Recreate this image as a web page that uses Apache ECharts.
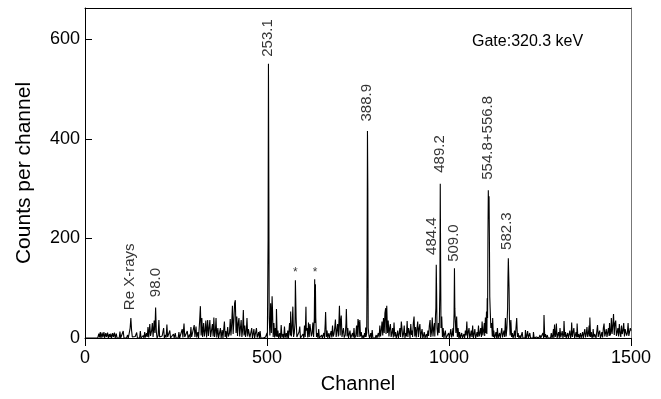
<!DOCTYPE html>
<html><head><meta charset="utf-8">
<script src="https://cdn.jsdelivr.net/npm/echarts@6.0.0/dist/echarts.min.js"></script>
<style>html,body{margin:0;padding:0;background:#fff}#c{width:661px;height:399px}</style>
</head><body><div id="c"></div>
<script>
// Gamma spectrum: [channel, counts per channel]
const spectrum = [
[0,0],[35,0],[38,9],[40,1],[42,12],[44,0],[47,11],[49,1],[52,12],[54,0],[57,10],[59,2],[62,11],[64,0],[67,8],[69,1],[71,9],[73,0],[76,10],[78,2],[81,11],[83,0],[86,9],[88,0],[92,4],[94,0],[96,13],[98,0],[101,2],[103,0],[105,14],[107,0],[112,3],[114,0],[117,6],[119,0],[122,12],[124,20],[126,40],[128,15],[130,2],[132,0],[138,3],[140,0],[142,11],[144,0],[148,2],[150,0],[152,14],[154,0],
[160,5],[162,0],[164,12],[166,1],[169,10],[171,2],[173,22],[175,1],[178,28],[180,4],[183,15],[185,30],[187,2],[190,35],[192,10],[194,61],[196,12],[198,0],[201,5],[203,36],[205,2],[208,0],[212,4],[214,0],[216,20],[218,0],[221,6],[223,1],[225,27],[227,2],[230,0],[233,15],[235,0],[238,4],[240,0],
[243,8],[245,0],[248,10],[250,0],[254,3],[256,0],[258,12],[260,0],[263,3],[265,0],[267,18],[269,1],[272,29],[274,2],[277,3],[279,0],[281,14],[283,0],[287,7],[289,0],[291,22],[293,2],[296,4],[298,1],[300,26],[302,2],
[305,23],[307,1],[310,12],[312,0],[315,35],[317,64],[319,5],[321,40],[323,2],[326,30],[328,3],[330,14],[332,35],[334,1],[337,36],[339,4],[341,20],[343,36],[345,2],[348,5],[350,28],[352,3],[354,41],[356,2],[358,12],[360,40],[362,1],[365,20],[367,0],[370,2],[372,20],[374,0],[377,16],[379,0],[383,33],[385,2],[387,14],[389,0],[392,22],[394,3],[397,10],[399,38],[401,5],
[403,28],[405,65],[407,8],[409,35],[411,70],[413,76],[415,10],[417,43],[419,4],[421,30],[423,40],[425,3],[427,20],[429,36],[431,2],[433,15],[435,56],[437,5],[439,25],[441,2],[443,12],[445,40],[447,3],[449,18],[451,22],[453,1],[456,5],[458,20],[460,0],[462,8],[464,18],[466,0],[469,2],[471,20],[473,1],[475,6],[477,12],[479,0],[481,14],[483,0],[488,3],[490,0],[496,2],[498,0],[500,10],[501,0],[503,200],[504,551],[505,300],[506,40],[508,5],
[510,70],[512,10],[514,84],[515,60],[517,2],[519,30],[521,1],[523,20],[525,3],[526,58],[528,2],[530,15],[532,0],[535,10],[537,0],[539,26],[541,1],[544,8],[546,0],[548,23],[550,1],[553,10],[555,0],[557,15],[559,0],[562,30],[564,5],[565,53],[567,3],[569,20],[571,63],[573,2],[575,10],[577,30],[578,116],[579,116],[580,40],[582,2],[584,5],[586,0],[588,12],[590,23],[592,0],[596,0],[599,8],[601,0],[603,25],[605,2],[607,63],[608,15],[610,20],[612,1],[614,31],[616,2],[618,28],[620,31],[622,3],[624,10],[626,31],[628,2],[630,40],[631,118],[632,30],[633,108],[634,40],[636,2],[638,10],[640,0],[642,18],[644,0],
[647,0],[650,6],[652,0],[654,2],[656,10],[658,0],[660,30],[661,52],[663,2],[665,15],[667,0],[670,10],[672,0],[674,2],[676,14],[678,1],[680,25],[682,3],[684,8],[686,20],[688,37],[690,2],[692,15],[694,28],[696,3],[698,40],[699,65],[701,5],[702,30],[704,45],[706,2],[708,12],[710,20],[712,1],[715,6],[717,30],[718,58],[720,3],[722,20],[724,0],[726,8],[728,15],[730,0],[733,4],[735,10],[737,1],[739,20],[741,0],[744,5],[746,25],[748,2],[750,38],[752,30],[753,2],[755,36],[757,3],[759,12],[761,0],[764,5],[766,0],[768,10],[770,2],[771,21],[772,2],[774,10],[775,150],[776,416],[777,300],[778,20],[780,5],
[782,0],[785,10],[787,0],[789,16],[791,0],[795,3],[797,0],[800,6],[802,0],[804,2],[806,10],[808,1],[810,25],[812,3],[814,15],[816,33],[818,5],[820,40],[822,10],[824,50],[826,60],[827,8],[829,65],[831,10],[833,35],[835,3],[837,20],[839,28],[841,2],[843,10],[845,20],[847,1],[849,31],[851,3],[853,12],[855,0],[857,5],[859,15],[861,0],[863,8],[865,20],[867,2],[869,33],[871,18],[873,1],[875,8],[877,25],[879,0],[881,10],[883,3],[885,34],[887,2],[889,20],[891,12],[893,0],[895,28],[897,6],[899,15],[900,2],[902,30],[904,43],[906,3],
[908,22],[910,1],[912,18],[914,33],[916,2],[918,20],[920,28],[922,0],[924,10],[926,18],[928,0],[930,5],[932,12],[934,0],[936,2],[938,8],[940,0],[942,15],[944,4],[946,25],[948,36],[950,2],[952,12],[954,41],[956,3],[958,20],[960,30],[961,3],[963,46],[964,60],[965,147],[966,90],[967,20],[969,5],[971,30],[973,10],[975,100],[976,310],[977,150],[978,20],[980,43],[982,2],[984,20],[986,0],[988,8],[990,15],[992,0],[995,3],[997,0],[999,10],[1001,0],
[1003,2],[1005,18],[1007,1],[1009,8],[1011,20],[1012,3],[1013,25],[1014,50],[1015,140],[1016,60],[1017,40],[1019,10],[1021,43],[1023,2],[1025,20],[1027,0],[1029,12],[1031,0],[1033,5],[1035,10],[1037,0],[1039,3],[1041,8],[1043,0],[1045,15],[1047,5],[1049,33],[1051,0],[1053,12],[1055,20],[1057,0],[1059,6],[1061,15],[1063,2],[1065,25],[1067,0],[1069,8],[1071,18],[1073,0],[1075,5],[1077,12],[1079,2],[1081,25],[1083,3],[1085,10],[1087,20],[1089,2],[1091,33],[1093,5],[1095,15],[1097,30],[1098,4],[1100,41],[1101,10],[1102,25],[1103,53],[1104,8],[1105,80],[1106,40],
[1107,200],[1108,297],[1109,240],[1110,285],[1111,200],[1112,83],[1113,60],[1115,20],[1117,30],[1119,3],[1120,40],[1122,2],[1123,15],[1125,0],[1127,5],[1129,12],[1131,0],[1133,20],[1135,0],[1137,5],[1139,10],[1141,0],[1143,2],[1145,20],[1147,1],[1149,8],[1151,15],[1153,2],[1155,40],[1157,3],[1159,20],[1161,60],[1162,120],[1163,160],[1164,160],[1165,100],[1166,40],[1168,5],[1170,36],[1172,2],[1174,10],[1176,0],[1178,5],[1180,15],[1182,0],[1184,3],[1186,40],[1188,2],[1190,10],[1192,0],[1195,5],[1197,0],
[1201,12],[1203,0],[1207,3],[1209,0],[1210,16],[1212,0],[1214,5],[1216,14],[1218,0],[1222,10],[1224,0],[1229,4],[1231,0],[1232,12],[1234,0],[1240,2],[1242,0],[1245,5],[1247,0],[1250,6],[1252,0],[1258,10],[1260,0],[1261,46],[1263,2],[1265,8],[1267,0],[1270,6],[1272,0],[1277,3],[1279,0],[1281,10],[1283,0],[1285,5],[1287,18],[1288,0],[1290,27],[1292,2],[1294,10],[1295,29],[1297,0],[1299,6],[1301,12],[1303,0],[1305,20],[1307,1],[1309,5],[1311,14],[1313,0],[1315,8],[1316,34],[1318,2],[1320,12],[1322,0],[1324,3],[1326,10],[1328,0],[1330,4],[1332,15],[1334,0],[1336,8],[1337,31],[1339,2],[1341,12],[1343,20],[1345,0],[1347,5],[1349,12],[1351,1],[1352,29],[1354,2],[1356,8],[1358,0],[1361,10],[1363,0],[1365,5],[1367,12],[1369,0],[1371,4],[1373,18],[1375,1],[1377,8],[1379,22],[1381,2],[1383,10],[1385,25],[1386,3],[1387,41],[1389,2],[1391,12],[1393,0],[1395,5],[1396,18],[1398,1],[1400,8],[1402,10],[1404,0],[1406,4],[1408,26],[1410,2],[1412,10],[1414,15],[1416,0],[1418,5],[1420,12],[1422,1],[1424,20],[1426,29],[1428,3],[1430,10],[1432,18],[1434,2],[1436,5],[1438,20],[1440,4],[1441,30],[1443,5],[1445,15],[1446,40],[1448,8],[1450,25],[1452,48],[1454,6],[1456,30],[1458,35],[1460,4],[1462,12],[1464,20],[1466,3],[1468,28],[1470,10],[1472,2],[1474,25],[1476,8],[1478,15],[1480,30],[1482,3],[1484,18],[1486,22],[1488,5],[1490,10],[1492,30],[1494,4],[1496,12],[1498,20],[1500,15]
];
// Peak annotations (energies in keV), placed at [channel, counts] of the label's lower end
const peakLabels = ['Re X-rays', '98.0', '253.1', '388.9', '484.4', '489.2', '509.0', '554.8+556.8', '582.3'];
const peakLabelChannels = [124, 195, 503, 774, 952, 975, 1013, 1106, 1160];
const peakLabelCounts = [56, 82, 565, 435, 167, 332, 153, 318, 177];
// Contaminant markers
const starLabels = ['*', '*'];
const starChannels = [578, 632];
const starCounts = [131, 131];
const gateText = 'Gate:320.3 keV';
const xRange = [0, 1500];
const xStep = 500;
const yRange = [0, 663];
const yStep = 200;

const FONT = '"Liberation Sans", Arial, Helvetica, sans-serif';
const chart = echarts.init(document.getElementById('c'), null, {renderer: 'canvas'});

const labelData = peakLabels.map((t, i) => ({value: [peakLabelChannels[i], peakLabelCounts[i]], name: t}));
const starData = starLabels.map((t, i) => ({value: [starChannels[i], starCounts[i]], name: t}));

chart.setOption({
  animation: false,
  backgroundColor: '#fff',
  textStyle: {fontFamily: FONT},
  grid: {left: 85, right: 30, top: 8, bottom: 61, containLabel: false},
  graphic: [{
    type: 'text', left: 472, top: 34,
    style: {text: gateText, font: '16px ' + FONT, fill: '#000'}
  }],
  xAxis: [{
    type: 'value', min: xRange[0], max: xRange[1], interval: xStep,
    name: 'Channel', nameLocation: 'middle', nameGap: 36,
    nameTextStyle: {fontSize: 20, color: '#000', fontFamily: FONT},
    axisLine: {show: true, lineStyle: {color: '#000', width: 1}},
    axisTick: {show: true, inside: false, length: 8, lineStyle: {color: '#000', width: 1}},
    axisLabel: {fontSize: 18, color: '#000', margin: 11, fontFamily: FONT, formatter: v => String(v)},
    splitLine: {show: false}
  }, {
    type: 'value', position: 'top', min: xRange[0], max: xRange[1],
    axisLine: {show: true, onZero: false, lineStyle: {color: '#000', width: 1}},
    axisTick: {show: false}, axisLabel: {show: false}, splitLine: {show: false}
  }],
  yAxis: [{
    type: 'value', min: yRange[0], max: yRange[1], interval: yStep,
    name: 'Counts per channel', nameLocation: 'middle', nameGap: 50,
    nameTextStyle: {fontSize: 21, color: '#000', fontFamily: FONT},
    axisLine: {show: true, lineStyle: {color: '#000', width: 1}},
    axisTick: {show: true, inside: true, length: 7, lineStyle: {color: '#000', width: 1}},
    axisLabel: {fontSize: 18, color: '#000', margin: 5, fontFamily: FONT, showMaxLabel: false,
      formatter: v => (v % yStep === 0 ? String(v) : '')},
    splitLine: {show: false}
  }, {
    type: 'value', position: 'right', min: yRange[0], max: yRange[1],
    axisLine: {show: true, onZero: false, lineStyle: {color: '#777', width: 1}},
    axisTick: {show: false}, axisLabel: {show: false}, splitLine: {show: false}
  }],
  series: [{
    type: 'line', xAxisIndex: 0, yAxisIndex: 0,
    data: spectrum, showSymbol: false, symbol: 'none', sampling: 'none',
    lineStyle: {color: '#000', width: 1.1}, silent: true, z: 3
  }, {
    type: 'scatter', xAxisIndex: 0, yAxisIndex: 0,
    data: labelData, symbolSize: 1, itemStyle: {color: 'rgba(0,0,0,0)'}, silent: true, z: 4,
    label: {show: true, position: 'inside', rotate: 90, align: 'left', verticalAlign: 'middle',
      formatter: p => p.name, fontSize: 15, color: '#000', fontFamily: FONT}
  }, {
    type: 'scatter', xAxisIndex: 0, yAxisIndex: 0,
    data: starData, symbolSize: 1, itemStyle: {color: 'rgba(0,0,0,0)'}, silent: true, z: 4,
    label: {show: true, position: 'inside', align: 'center', verticalAlign: 'middle',
      formatter: p => p.name, fontSize: 12, color: '#000', fontFamily: FONT}
  }]
});
</script>
</body></html>
